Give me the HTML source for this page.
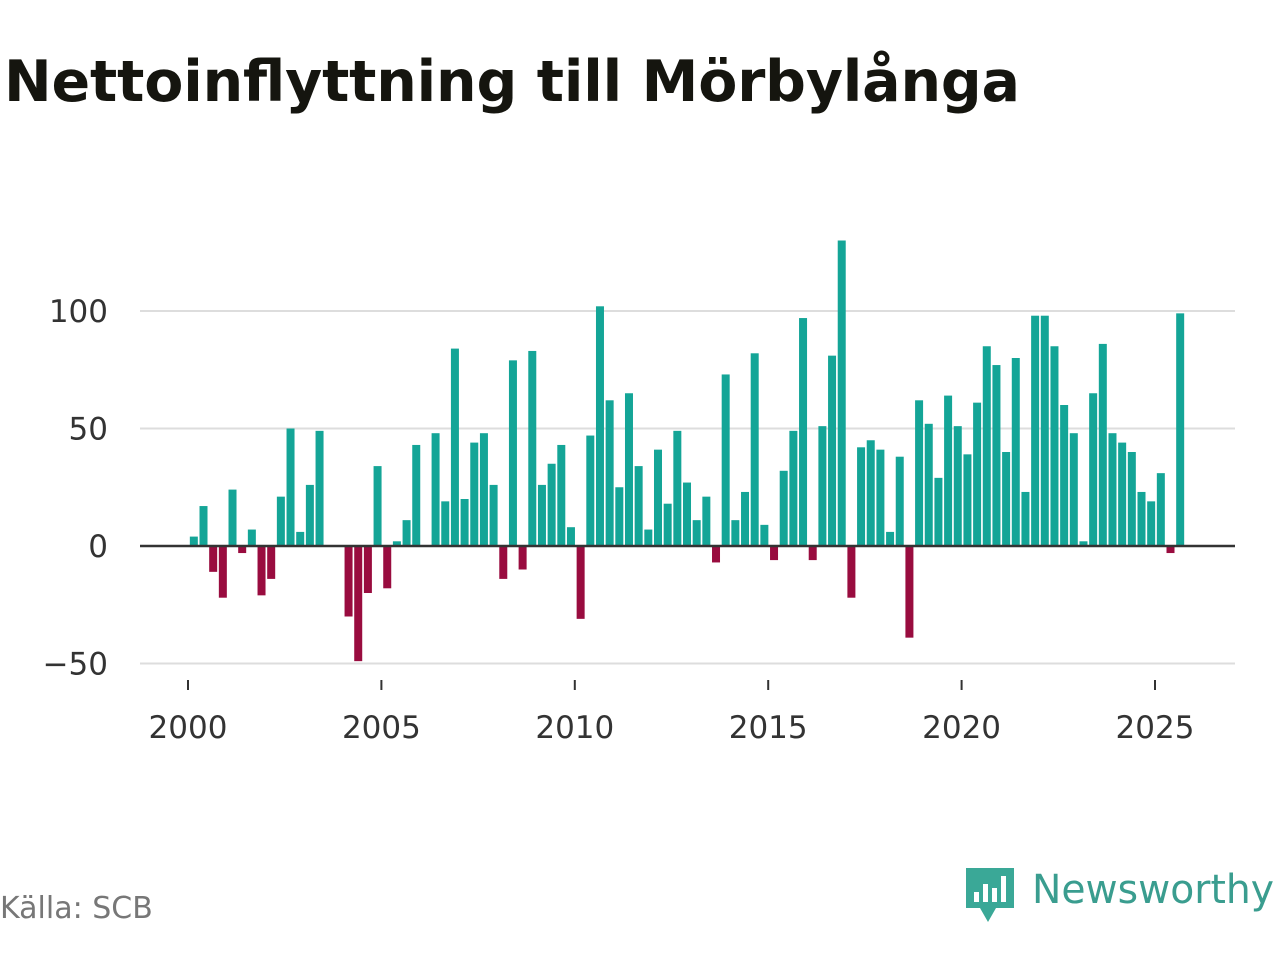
<!DOCTYPE html>
<html><head><meta charset="utf-8"><style>
body{margin:0;background:#fff;width:1280px;height:960px;overflow:hidden;font-family:"Liberation Sans","DejaVu Sans",sans-serif}
</style></head><body>
<svg width="1280" height="960">
<text x="4" y="101" font-size="57" font-weight="bold" fill="#15150f" font-family="'DejaVu Sans','Liberation Sans',sans-serif" textLength="1016">Nettoinflyttning till Mörbylånga</text>
<g id="grid"></g>
<g id="bars"></g>
<g id="xaxis"></g>
<text x="0" y="918" font-size="30" fill="#777" font-family="'DejaVu Sans','Liberation Sans',sans-serif">Källa: SCB</text>
<g>
<path d="M966 868 h48 v40 h-18 l-8 14 l-8-14 h-14 z" fill="#3aa897"/>
<rect x="974" y="892" width="5" height="10" fill="#fff"/><rect x="983" y="884" width="5" height="18" fill="#fff"/><rect x="992" y="888" width="5" height="14" fill="#fff"/><rect x="1001" y="876" width="5" height="26" fill="#fff"/>
<text x="1032" y="903" font-size="40" fill="#3a9d8f" textLength="1242" lengthAdjust="spacingAndGlyphs" font-family="'DejaVu Sans','Liberation Sans',sans-serif"></text>
<text x="1032" y="903" font-size="40" fill="#3a9d8f" textLength="242" lengthAdjust="spacingAndGlyphs" font-family="'DejaVu Sans','Liberation Sans',sans-serif">Newsworthy</text>
</g>
</svg>
<script>
const values=[4,17,-11,-22,24,-3,7,-21,-14,21,50,6,26,49,0,0,-30,-49,-20,34,-18,2,11,43,0,48,19,84,20,44,48,26,-14,79,-10,83,26,35,43,8,-31,47,102,62,25,65,34,7,41,18,49,27,11,21,-7,73,11,23,82,9,-6,32,49,97,-6,51,81,130,-22,42,45,41,6,38,-39,62,52,29,64,51,39,61,85,77,40,80,23,98,98,85,60,48,2,65,86,48,44,40,23,19,31,-3,99];
const startYear=2000;
const yTicks=[-50,0,50,100];
const xTicks=[2000,2005,2010,2015,2020,2025];
const NS="http://www.w3.org/2000/svg";
const x=t=>188+(t-startYear)*38.68;
const y=v=>546-v*2.35;
function mk(tag,attrs,parent){const e=document.createElementNS(NS,tag);for(const k in attrs)e.setAttribute(k,attrs[k]);document.getElementById(parent).appendChild(e);return e;}
yTicks.forEach(v=>{
 if(v!==0){const l=mk('line',{x1:140,x2:1235,y1:y(v),y2:y(v),stroke:'#ddd','stroke-width':2},'grid');
 
 }
 const t=mk('text',{x:108,y:y(v)+11,'font-size':31,fill:'#333','text-anchor':'end','font-family':"'DejaVu Sans',sans-serif"},'grid');
 t.textContent=v<0?'\u2212'+(-v):v;
 
 
});
values.forEach((v,i)=>{
 const cx=x(startYear+(i+0.5)/4)+1;
 const r=mk('rect',{x:cx-4,width:8,y:v>=0?y(v):y(0),height:Math.abs(y(v)-y(0)),fill:v>=0?'#14a597':'#990c3f'},'bars');
 
 
});
const z=mk('line',{x1:140,x2:1235,y1:y(0),y2:y(0),stroke:'#333','stroke-width':2.5},'bars');


xTicks.forEach(t=>{
 const l=mk('line',{x1:x(t),x2:x(t),y1:680,y2:690,stroke:'#333','stroke-width':2},'xaxis');
 
 
 const tx=mk('text',{x:x(t),y:738,'font-size':31,fill:'#333','text-anchor':'middle','font-family':"'DejaVu Sans',sans-serif"},'xaxis');
 tx.textContent=t;
 
 
});
</script>
</body></html>
